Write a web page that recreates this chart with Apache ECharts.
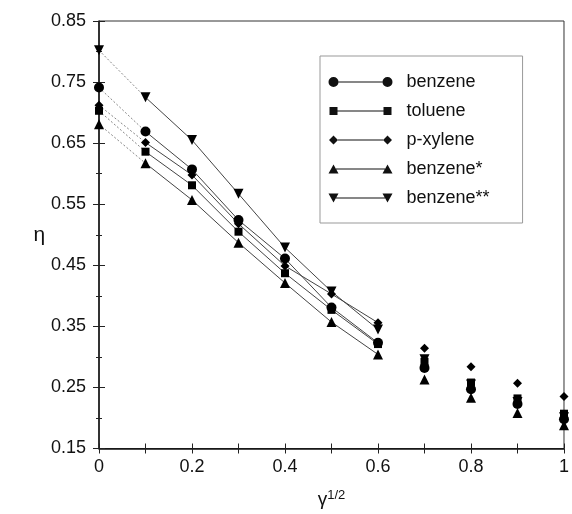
<!DOCTYPE html>
<html>
<head>
<meta charset="utf-8">
<script src="https://cdn.jsdelivr.net/npm/echarts@6/dist/echarts.min.js"></script>
<style>html,body{margin:0;padding:0;background:#fff}#c{width:572px;height:514px}</style>
</head>
<body>
<div id="c"></div>
<script>
// gamma^(1/2) values
const xValues = [0, 0.1, 0.2, 0.3, 0.4, 0.5, 0.6, 0.7, 0.8, 0.9, 1.0];
const seriesNames = ['benzene', 'toluene', 'p-xylene', 'benzene*', 'benzene**'];
const benzene     = [0.741, 0.669, 0.607, 0.524, 0.461, 0.381, 0.323, 0.282, 0.247, 0.223, 0.198];
const toluene     = [0.703, 0.636, 0.581, 0.505, 0.437, 0.377, 0.321, 0.292, 0.258, 0.232, 0.207];
const pxylene     = [0.712, 0.651, 0.598, 0.518, 0.449, 0.403, 0.356, 0.314, 0.284, 0.257, 0.235];
const benzeneS    = [0.681, 0.617, 0.557, 0.487, 0.421, 0.357, 0.304, 0.263, 0.233, 0.208, 0.188];
const benzeneSS   = [0.802, 0.725, 0.655, 0.567, 0.479, 0.407, 0.345, 0.296, 0.255, 0.226, 0.201];
const yTicks = [0.15, 0.25, 0.35, 0.45, 0.55, 0.65, 0.75, 0.85];
const xTickLabels = ['0', '0.2', '0.4', '0.6', '0.8', '1'];

const allData = [benzene, toluene, pxylene, benzeneS, benzeneSS];
const symbols = ['circle', 'rect', 'diamond', 'triangle', 'triangle'];
const rotates = [0, 0, 0, 0, 180];
const sizes = [10, 8, 9, 10, 10];

const pad = ' M0,0 L0,0 Z M64,10 L64,10 Z';
const lineBar = (a, b) => ` M${a},4.5 L${b},4.5 L${b},5.5 L${a},5.5 Z`;
const icons = [
  'path://M0,5 A5,5 0 1,1 10,5 A5,5 0 1,1 0,5 Z' + lineBar(10, 54) + ' M54,5 A5,5 0 1,1 64,5 A5,5 0 1,1 54,5 Z' + pad,
  'path://M1,1 L9,1 L9,9 L1,9 Z' + lineBar(9, 55) + ' M55,1 L63,1 L63,9 L55,9 Z' + pad,
  'path://M0.5,5 L5,0.5 L9.5,5 L5,9.5 Z' + lineBar(9.5, 54.5) + ' M54.5,5 L59,0.5 L63.5,5 L59,9.5 Z' + pad,
  'path://M0,9.5 L5,0.5 L10,9.5 Z' + lineBar(7.5, 56.5) + ' M54,9.5 L59,0.5 L64,9.5 Z' + pad,
  'path://M0,0.5 L10,0.5 L5,9.5 Z' + lineBar(7.5, 56.5) + ' M54,0.5 L64,0.5 L59,9.5 Z' + pad
];

const pts = (arr, i0, i1) => xValues.slice(i0, i1).map((x, k) => [x, arr[i0 + k]]);

const series = [];
allData.forEach((arr, i) => {
  series.push({
    name: seriesNames[i] + '_dot', type: 'line', data: pts(arr, 0, 2), symbol: 'none',
    lineStyle: { color: '#888', width: 1, type: [2, 2] }, z: 2, silent: true
  });
  series.push({
    name: seriesNames[i] + '_line', type: 'line', data: pts(arr, 1, 7), symbol: 'none',
    lineStyle: { color: '#444', width: 1 }, z: 2, silent: true
  });
});
allData.forEach((arr, i) => {
  series.push({
    name: seriesNames[i], type: 'scatter', data: pts(arr, 0, 11),
    symbol: symbols[i], symbolRotate: rotates[i], symbolSize: sizes[i],
    itemStyle: { color: '#000', opacity: 1 }, z: 5
  });
});

const font = 'Liberation Sans, Arial, sans-serif';
const axisLineStyle = { color: '#111', width: 1.5 };

const option = {
  animation: false,
  backgroundColor: '#fff',
  textStyle: { fontFamily: font, color: '#111' },
  grid: { left: 99, right: 3, top: 21, bottom: 62, show: true, borderColor: '#333', borderWidth: 1, containLabel: false },
  legend: {
    orient: 'vertical', left: 320, top: 56,
    padding: [16, 33, 15, 8.5],
    borderColor: '#999', borderWidth: 1,
    itemWidth: 64, itemHeight: 10, itemGap: 9,
    textStyle: { fontSize: 18, color: '#111', fontFamily: font, lineHeight: 20, padding: [0, 0, 0, 9] },
    data: seriesNames.map((n, i) => ({ name: n, icon: icons[i], itemStyle: { color: '#111' } }))
  },
  xAxis: [
    {
      type: 'value', min: 0, max: 1, interval: 0.1, position: 'bottom',
      name: '{g|γ}{s|1/2}', nameLocation: 'middle', nameGap: 40,
      nameTextStyle: { fontFamily: font, color: '#111', rich: {
        g: { fontSize: 19, lineHeight: 22, fontFamily: font },
        s: { fontSize: 13, lineHeight: 13, verticalAlign: 'top', fontFamily: font }
      } },
      axisLine: { show: true, onZero: false, lineStyle: axisLineStyle },
      axisTick: { show: true, inside: false, length: 5, lineStyle: { color: '#222' } },
      axisLabel: { fontSize: 18, color: '#111', margin: 10, fontFamily: font,
        formatter: v => { const k = Math.round(v * 10); return k % 2 ? '' : xTickLabels[k / 2]; } },
      splitLine: { show: false }
    },
    {
      type: 'value', min: 0, max: 1, interval: 0.1, position: 'bottom', offset: 0,
      axisLine: { show: false, onZero: false },
      axisTick: { show: true, inside: true, length: 5, lineStyle: { color: '#222' } },
      axisLabel: { show: false }, splitLine: { show: false }
    }
  ],
  yAxis: [
    {
      type: 'value', min: yTicks[0], max: yTicks[yTicks.length - 1], interval: 0.1, position: 'left',
      name: 'η', nameLocation: 'middle', nameGap: 52, nameRotate: 0,
      nameTextStyle: { fontSize: 21, color: '#111', fontFamily: font },
      axisLine: { show: true, onZero: false, lineStyle: axisLineStyle },
      axisTick: { show: true, inside: false, length: 6, lineStyle: { color: '#222' } },
      minorTick: { show: true, splitNumber: 2, length: 3, lineStyle: { color: '#222' } },
      axisLabel: { fontSize: 18, color: '#111', margin: 13, fontFamily: font, formatter: v => v.toFixed(2) },
      splitLine: { show: false }, minorSplitLine: { show: false }
    },
    {
      type: 'value', min: yTicks[0], max: yTicks[yTicks.length - 1], interval: 0.1, position: 'left', offset: 0,
      axisLine: { show: false, onZero: false },
      axisTick: { show: true, inside: true, length: 6, lineStyle: { color: '#222' } },
      minorTick: { show: true, splitNumber: 2, length: 3, lineStyle: { color: '#222' } },
      axisLabel: { show: false }, splitLine: { show: false }, minorSplitLine: { show: false }
    }
  ],
  series: series
};

const chart = echarts.init(document.getElementById('c'), null, { renderer: 'canvas' });
chart.setOption(option);
</script>
</body>
</html>
